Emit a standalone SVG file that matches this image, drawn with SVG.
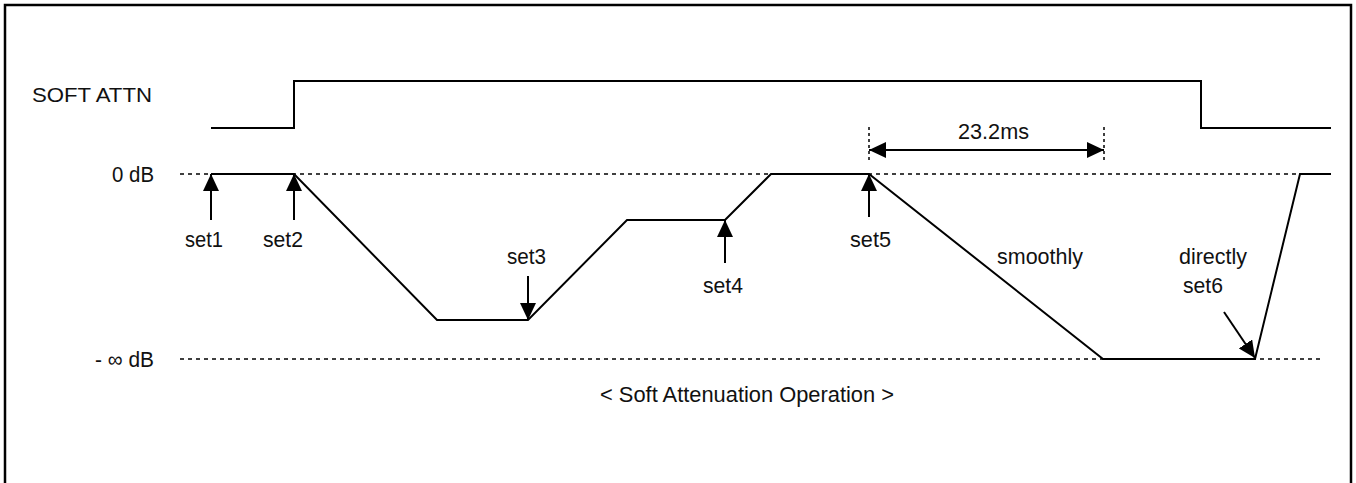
<svg xmlns="http://www.w3.org/2000/svg" width="1356" height="483" viewBox="0 0 1356 483">
<style>
  text { font-family: "Liberation Sans", Arial, sans-serif; font-size: 22px; fill: #111; }
  .sig { fill: none; stroke: #000; stroke-width: 2; stroke-linejoin: miter; }
  .dot { fill: none; stroke: #000; stroke-width: 1.5; stroke-dasharray: 4 4; }
  .tick { fill: none; stroke: #000; stroke-width: 1.5; stroke-dasharray: 3 3; }
  .arr { fill: none; stroke: #000; stroke-width: 2; marker-end: url(#ah); }
</style>
<defs>
  <marker id="ah" markerUnits="userSpaceOnUse" markerWidth="18" markerHeight="16" refX="17" refY="8" orient="auto">
    <path d="M0,0 L17,8 L0,16 z" fill="#000"/>
  </marker>
  <marker id="ahs" markerUnits="userSpaceOnUse" markerWidth="18" markerHeight="16" refX="17" refY="8" orient="auto-start-reverse">
    <path d="M0,0 L17,8 L0,16 z" fill="#000"/>
  </marker>
</defs>
<rect width="1356" height="483" fill="#fff"/>
<rect id="frame" x="5" y="5" width="1346" height="510" fill="none" stroke="#000" stroke-width="2.5"/>

<g id="labels">
  <text x="32" y="102" style="font-size:21px" textLength="120" lengthAdjust="spacingAndGlyphs">SOFT ATTN</text>
  <text x="112" y="182" textLength="42" lengthAdjust="spacingAndGlyphs">0 dB</text>
  <text x="95" y="367" textLength="59" lengthAdjust="spacingAndGlyphs">- ∞ dB</text>
  <text x="600" y="402" textLength="294" lengthAdjust="spacingAndGlyphs">&lt; Soft Attenuation Operation &gt;</text>
</g>

<g id="reference-lines">
  <line class="dot" x1="180" y1="174" x2="1300" y2="174"/>
  <line class="dot" x1="180" y1="359" x2="1322" y2="359"/>
</g>

<g id="soft-attn-signal">
  <polyline class="sig" points="211,128 294,128 294,81 1201,81 1201,128 1331,128"/>
</g>

<g id="level-waveform">
  <polyline class="sig" points="211,174 294,174 437,320 528,320 627,220 725,220 771,174 869,174 1103,359 1255,359 1300,174 1331,174"/>
</g>

<g id="connectors">
  <line class="arr" x1="211" y1="220" x2="211" y2="174"/>
  <line class="arr" x1="294" y1="220" x2="294" y2="174"/>
  <line class="arr" x1="528" y1="276" x2="528" y2="320"/>
  <line class="arr" x1="725" y1="263" x2="725" y2="220"/>
  <line class="arr" x1="869" y1="217" x2="869" y2="174"/>
  <line class="arr" x1="1224" y1="312" x2="1255" y2="358"/>
  <line class="tick" x1="869" y1="127" x2="869" y2="163"/>
  <line class="tick" x1="1104" y1="127" x2="1104" y2="163"/>
  <line fill="none" stroke="#000" stroke-width="2" x1="869" y1="150" x2="1104" y2="150" marker-start="url(#ahs)" marker-end="url(#ahs)"/>
</g>

<g id="set1"><text x="185" y="247" textLength="38" lengthAdjust="spacingAndGlyphs">set1</text></g>
<g id="set2"><text x="263" y="247" textLength="40" lengthAdjust="spacingAndGlyphs">set2</text></g>
<g id="set3"><text x="507" y="264" textLength="39" lengthAdjust="spacingAndGlyphs">set3</text></g>
<g id="set4"><text x="703" y="293" textLength="40" lengthAdjust="spacingAndGlyphs">set4</text></g>
<g id="set5"><text x="850" y="247" textLength="41" lengthAdjust="spacingAndGlyphs">set5</text></g>
<g id="duration"><text x="958" y="139" textLength="71" lengthAdjust="spacingAndGlyphs">23.2ms</text></g>
<g id="smoothly"><text x="997" y="264" textLength="86" lengthAdjust="spacingAndGlyphs">smoothly</text></g>
<g id="set6">
  <text x="1179" y="264" textLength="68" lengthAdjust="spacingAndGlyphs">directly</text>
  <text x="1183" y="293" textLength="40" lengthAdjust="spacingAndGlyphs">set6</text>
</g>
</svg>
